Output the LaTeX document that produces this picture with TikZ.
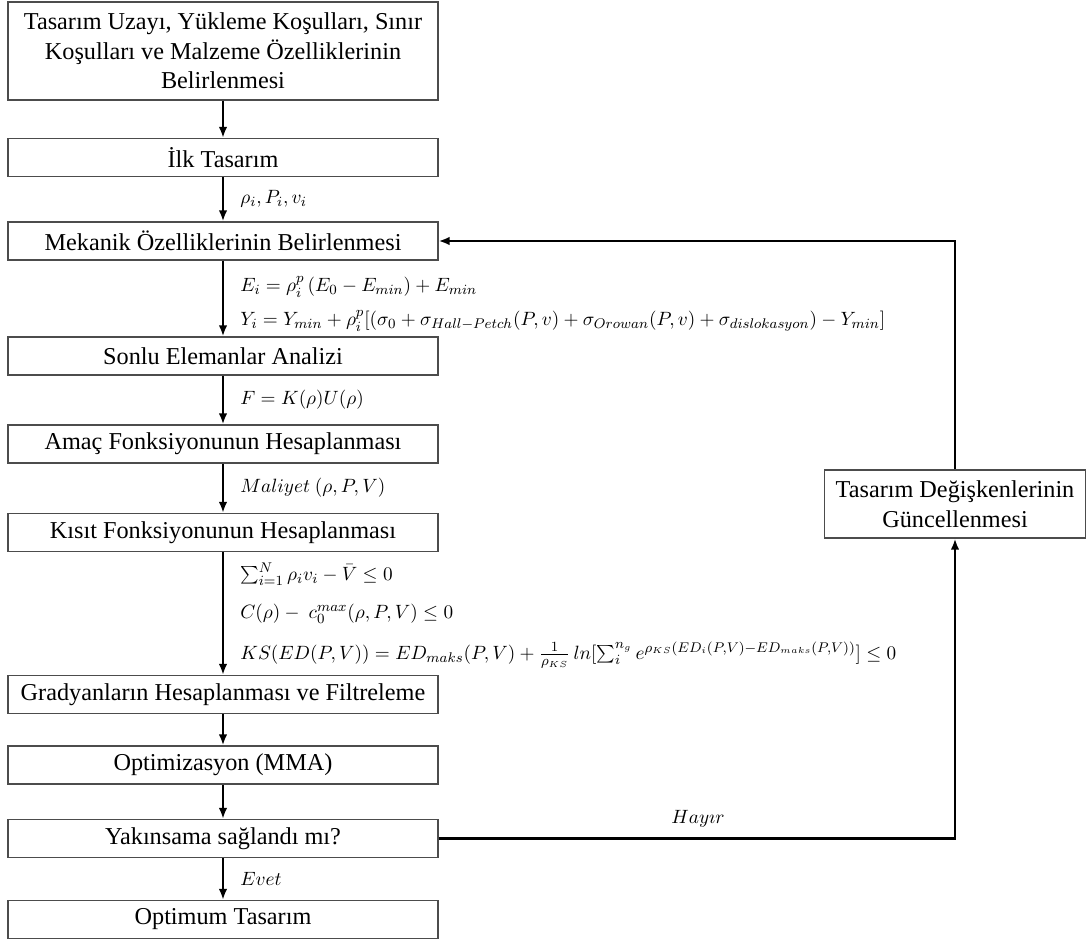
\documentclass[tikz,border=0pt]{standalone}
\usepackage{fontspec}
\setmainfont{Liberation Serif}
\usetikzlibrary{arrows.meta}
\tikzstyle{box}=[%
	draw = black!70,
	line width = 0.7pt,
	minimum width = 8.6cm,
	minimum height = 0.76cm,
	inner sep = 0pt,
	align = center,
	font = \fontsize{13.8}{16.8}\selectfont
]
\tikzstyle{flow}=[line width = 1.5pt, -{Latex[length=2.2mm,width=1.7mm]}]
\tikzstyle{lbl}=[anchor = west, inner sep = 0pt, xshift = 3.2mm, font = \fontsize{11}{13}\selectfont]

\begin{document}
\begin{tikzpicture}[x=0.02cm, y=-0.02cm]
	\useasboundingbox (0,0) rectangle (1086,939);

	% Main column
	\node[box, minimum height=1.96cm] (space) at (223,51)
		{Tasarım Uzayı, Yükleme Koşulları, Sınır\\Koşulları ve Malzeme Özelliklerinin\\Belirlenmesi};
	\foreach \name/\y/\txt in {first/157.5/İlk Tasarım,
			mech/241/Mekanik Özelliklerinin Belirlenmesi,
			fem/356/Sonlu Elemanlar Analizi,
			obj/444/Amaç Fonksiyonunun Hesaplanması,
			cons/532.5/Kısıt Fonksiyonunun Hesaplanması,
			grad/694.5/Gradyanların Hesaplanması ve Filtreleme,
			mma/765/Optimizasyon (MMA),
			conv/838.5/Yakınsama sağlandı mı?,
			opt/919.5/Optimum Tasarım} {
		\node[box] (\name) at (223,\y) {\txt};
	}
	\node[box, minimum width=5.22cm, minimum height=1.36cm] (update) at (955,504)
		{Tasarım Değişkenlerinin\\Güncellenmesi};

	% Connectors
	\foreach \a/\b in {space/first, first/mech, mech/fem, fem/obj, obj/cons, cons/grad, grad/mma, mma/conv, conv/opt} {
		\draw[flow] (\a) -- (\b);
	}
	\draw[flow] (conv.east) -| (update.south);
	\draw[flow] (update.north) |- (mech.east);

	% Labels
	\node[lbl] (lrho) at (224,199) {$\rho_i, P_i, v_i$};
	\node[lbl] (lE) at (224,287) {$E_i = \rho_i^p\,(E_0 - E_{min}) + E_{min}$};
	\node[lbl] (lY) at (224,321) {$Y_i = Y_{min} + \rho_i^p\bigl[\bigl(\sigma_0 + \sigma_{Hall-Petch}(P,v) + \sigma_{Orowan}(P,v) + \sigma_{dislokasyon}\bigr) - Y_{min}\bigr]$};
	\node[lbl] (lF) at (224,400) {$F = K(\rho)U(\rho)$};
	\node[lbl] (lcost) at (224,488) {$Maliyet\ (\rho, P, V)$};
	\node[lbl] (lvol) at (224,574) {$\sum_{i=1}^{N}\rho_i v_i - \bar{V} \le 0$};
	\node[lbl] (lcomp) at (224,614) {$C(\rho) -\ c_0^{max}(\rho, P, V) \le 0$};
	\node[lbl] (lks) at (224,655) {$KS\bigl(ED(P,V)\bigr) = ED_{maks}(P,V) + \frac{1}{\rho_{KS}}\,ln\bigl[\sum_i^{n_g} e^{\rho_{KS}(ED_i(P,V)-ED_{maks}(P,V))}\bigr] \le 0$};
	\node[lbl] (lyes) at (224,879) {$Evet$};
	\node[font=\fontsize{11}{13}\selectfont] (lno) at (698,819) {$Hay\imath r$};

\end{tikzpicture}
\end{document}
